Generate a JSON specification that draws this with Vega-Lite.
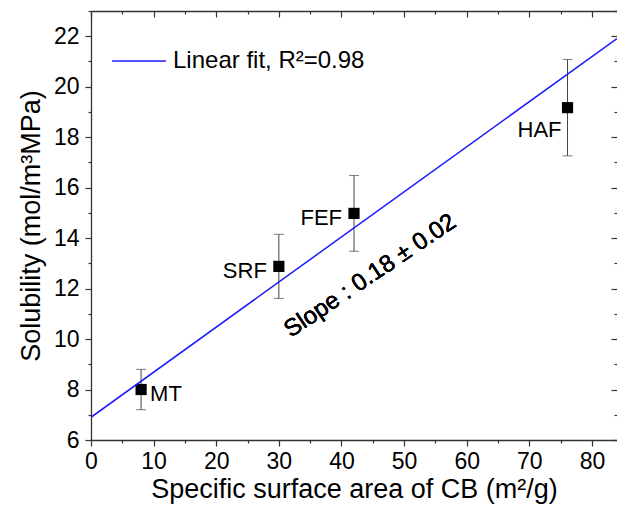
{
  "$schema": "https://vega.github.io/schema/vega-lite/v6.json",
  "width": 526,
  "height": 429,
  "autosize": {"type": "none"},
  "padding": {"left": 91, "top": 11, "right": 0, "bottom": 72},
  "background": "white",
  "config": {
    "font": "Liberation Sans",
    "view": {"stroke": null},
    "axis": {
      "labelColor": "#000",
      "titleColor": "#000",
      "tickColor": "#333",
      "domainColor": "#333",
      "domainWidth": 1.3,
      "tickWidth": 1.2,
      "grid": false,
      "labelFontSize": 23,
      "titleFontSize": 27,
      "titleFontWeight": "normal",
      "labelFont": "Liberation Sans",
      "titleFont": "Liberation Sans"
    }
  },
  "data": {
    "values": [
      {"name": "MT", "x": 8, "y": 8.0, "err": 0.8},
      {"name": "SRF", "x": 30, "y": 12.88, "err": 1.27},
      {"name": "FEF", "x": 42, "y": 14.98, "err": 1.5},
      {"name": "HAF", "x": 76.1, "y": 19.17, "err": 1.91}
    ]
  },
  "resolve": {"axis": {"x": "independent", "y": "independent"}},
  "layer": [
    {
      "mark": {"type": "errorbar", "ticks": {"size": 10, "color": "#444"}, "rule": {"color": "#444", "strokeWidth": 1}},
      "encoding": {
        "x": {"field": "x", "type": "quantitative", "scale": {"domain": [0, 84], "nice": false, "zero": false},
          "axis": {"orient": "bottom", "title": "Specific surface area of CB (m²/g)", "values": [0, 10, 20, 30, 40, 50, 60, 70, 80], "tickSize": 6, "labelPadding": 4, "titlePadding": 3, "domain": true, "labelFlush": false}},
        "y": {"field": "y", "type": "quantitative", "scale": {"domain": [6, 23], "nice": false, "zero": false},
          "axis": {"orient": "left", "title": "Solubility (mol/m³MPa)", "values": [6, 8, 10, 12, 14, 16, 18, 20, 22], "tickSize": 6, "labelPadding": 6, "titlePadding": 8, "domain": true, "labelFlush": false}},
        "yError": {"field": "err"}
      }
    },
    {
      "mark": {"type": "square", "size": 125, "color": "#000", "opacity": 1, "filled": true},
      "encoding": {
        "x": {"field": "x", "type": "quantitative", "scale": {"domain": [0, 84], "nice": false, "zero": false},
          "axis": {"orient": "bottom", "title": null, "values": [5, 15, 25, 35, 45, 55, 65, 75], "tickSize": 3, "labels": false, "domain": false}},
        "y": {"field": "y", "type": "quantitative", "scale": {"domain": [6, 23], "nice": false, "zero": false},
          "axis": {"orient": "left", "title": null, "values": [7, 9, 11, 13, 15, 17, 19, 21, 23], "tickSize": 3, "labels": false, "domain": false}}
      }
    },
    {
      "data": {"values": [
        {"series": "Linear fit, R²=0.98", "x": 0, "y": 6.9},
        {"series": "Linear fit, R²=0.98", "x": 84, "y": 21.91}
      ]},
      "mark": {"type": "line", "strokeWidth": 1.5, "clip": true},
      "encoding": {
        "x": {"field": "x", "type": "quantitative", "scale": {"domain": [0, 84], "nice": false, "zero": false},
          "axis": {"orient": "top", "title": null, "values": [0, 10, 20, 30, 40, 50, 60, 70, 80], "tickSize": -6, "labels": false, "domain": true}},
        "y": {"field": "y", "type": "quantitative", "scale": {"domain": [6, 23], "nice": false, "zero": false},
          "axis": {"orient": "right", "title": null, "values": [6, 8, 10, 12, 14, 16, 18, 20, 22], "tickSize": -6, "labels": false, "domain": false}},
        "color": {"field": "series", "type": "nominal", "scale": {"range": ["#1a1aff"]},
          "legend": {"orient": "none", "legendX": 20, "legendY": 22, "title": null, "symbolType": "stroke", "symbolSize": 2900, "symbolStrokeWidth": 1.5, "labelFontSize": 24, "labelFont": "Liberation Sans", "labelColor": "#000", "labelOffset": 6, "padding": 0, "labelLimit": 400}}
      }
    },
    {
      "transform": [{"filter": "datum.name === 'MT'"}],
      "mark": {"type": "text", "align": "left", "baseline": "middle", "dx": 9, "dy": 4, "fontSize": 22, "color": "#000"},
      "encoding": {
        "x": {"field": "x", "type": "quantitative", "scale": {"domain": [0, 84], "nice": false, "zero": false},
          "axis": {"orient": "top", "title": null, "values": [5, 15, 25, 35, 45, 55, 65, 75], "tickSize": -3, "labels": false, "domain": false}},
        "y": {"field": "y", "type": "quantitative", "scale": {"domain": [6, 23], "nice": false, "zero": false},
          "axis": {"orient": "right", "title": null, "values": [7, 9, 11, 13, 15, 17, 19, 21, 23], "tickSize": -3, "labels": false, "domain": false}},
        "text": {"field": "name"}
      }
    },
    {
      "transform": [{"filter": "datum.name === 'SRF' || datum.name === 'FEF'"}],
      "mark": {"type": "text", "align": "right", "baseline": "middle", "dx": -12, "dy": 5, "fontSize": 22, "color": "#000"},
      "encoding": {
        "x": {"field": "x", "type": "quantitative", "scale": {"domain": [0, 84], "nice": false, "zero": false}, "axis": null},
        "y": {"field": "y", "type": "quantitative", "scale": {"domain": [6, 23], "nice": false, "zero": false}, "axis": null},
        "text": {"field": "name"}
      }
    },
    {
      "transform": [{"filter": "datum.name === 'HAF'"}],
      "mark": {"type": "text", "align": "right", "baseline": "middle", "dx": -6, "dy": 22, "fontSize": 22, "color": "#000"},
      "encoding": {
        "x": {"field": "x", "type": "quantitative", "scale": {"domain": [0, 84], "nice": false, "zero": false}, "axis": null},
        "y": {"field": "y", "type": "quantitative", "scale": {"domain": [6, 23], "nice": false, "zero": false}, "axis": null},
        "text": {"field": "name"}
      }
    },
    {
      "mark": {"type": "text", "align": "center", "baseline": "middle", "angle": -34, "fontSize": 24, "color": "#000", "text": "Slope : 0.18 ± 0.02"},
      "encoding": {
        "x": {"datum": 44.6, "type": "quantitative", "scale": {"domain": [0, 84], "nice": false, "zero": false}, "axis": null},
        "y": {"datum": 12.5, "type": "quantitative", "scale": {"domain": [6, 23], "nice": false, "zero": false}, "axis": null}
      }
    }
  ]
}
